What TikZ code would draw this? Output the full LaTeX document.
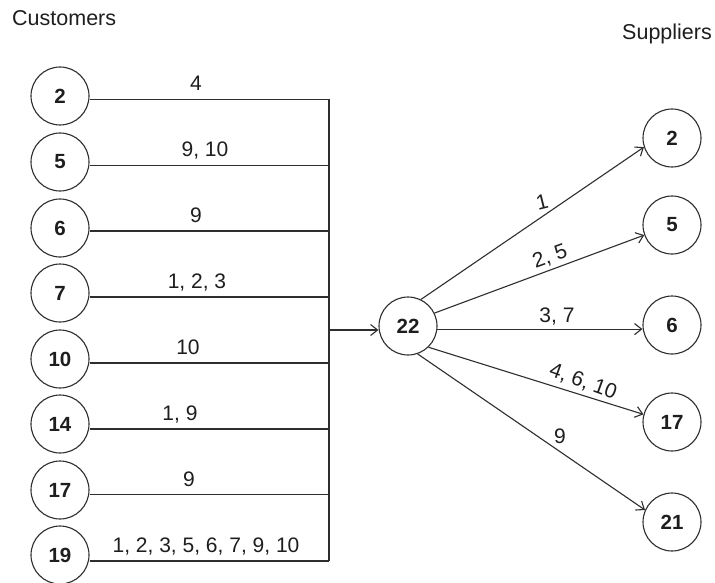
\documentclass[tikz,border=0pt]{standalone}
\usepackage{fontspec}
\setmainfont{Liberation Sans}
\usetikzlibrary{arrows.meta}
\definecolor{linegray}{HTML}{2E2E2E}
\definecolor{labelgray}{HTML}{1E1E1E}
\begin{document}
\begin{tikzpicture}[x=1pt,y=-1pt,
  party/.style={circle, draw=linegray, line width=1.1pt, minimum size=58pt,
    inner sep=0pt, text=labelgray, font=\fontsize{20.5}{24}\selectfont\bfseries},
  link/.style={draw=linegray, line width=1.1pt},
  flow/.style={link, -{Straight Barb[length=7pt,width=11pt,line width=1.1pt]}},
  lab/.style={anchor=base, inner sep=0pt, text=labelgray,
    font=\fontsize{21}{25}\selectfont},
  heading/.style={anchor=base west, inner sep=0pt, text=labelgray,
    font=\fontsize{21.5}{25}\selectfont}]
  \useasboundingbox (0,0) rectangle (715,583);
  \fill[white] (0,0) rectangle (715,583);

  % headings
  \node[heading] (hcust) at (12,26) {Customers};
  \node[heading] (hsupp) at (622,39.5) {Suppliers};

  % customers and their feeds into the common bus
  \foreach \n/\cy/\ly/\lx/\t in {
      2/96/99.5/196/4,
      5/162/165.5/205/{9, 10},
      6/228/231/196/9,
      7/293/297/197/{1, 2, 3},
      10/359/363/188/10,
      14/424/429/180/{1, 9},
      17/490/494.5/189/9,
      19/555/561/206/{1, 2, 3, 5, 6, 7, 9, 10}} {
    \node[party] (cu\n) at (60,\cy) {\n};
    \coordinate (j\n) at (329,\ly);
    \draw[link] (cu\n.east |- j\n) -- (j\n);
    \node[lab] (l\n) at (\lx,\ly-8.5) {\t};
  }
  \draw[link] (j2) -- (j19);

  % hub
  \node[party] (c22) at (408,326) {22};
  \coordinate (tap) at (329,330);
  \draw[flow] (tap) -- (tap -| c22.west);

  % suppliers
  \node[party] (su2)  at (672,138) {2};
  \node[party] (su5)  at (672,225) {5};
  \node[party] (su6)  at (672,325) {6};
  \node[party] (su17) at (672,422) {17};
  \node[party] (su21) at (672,522) {21};

  \draw[flow] (c22.64)  -- (su2.198);
  \draw[flow] (c22.26)  -- (su5.200);
  \draw[flow] (c22.-6)  -- (c22.-6 -| su6.west);
  \draw[flow] (c22.-46) -- (su17.165);
  \draw[flow] (c22.-71) -- (su21.156);

  \node[lab, anchor=center, rotate=14]  (r1) at (542,202) {1};
  \node[lab, anchor=center, rotate=20]  (r2) at (550,257) {2, 5};
  \node[lab, anchor=center]             (r3) at (557,317) {3, 7};
  \node[lab, anchor=center, rotate=-20] (r4) at (583,382) {4, 6, 10};
  \node[lab, anchor=center]             (r5) at (560,436) {9};
\end{tikzpicture}
\end{document}
